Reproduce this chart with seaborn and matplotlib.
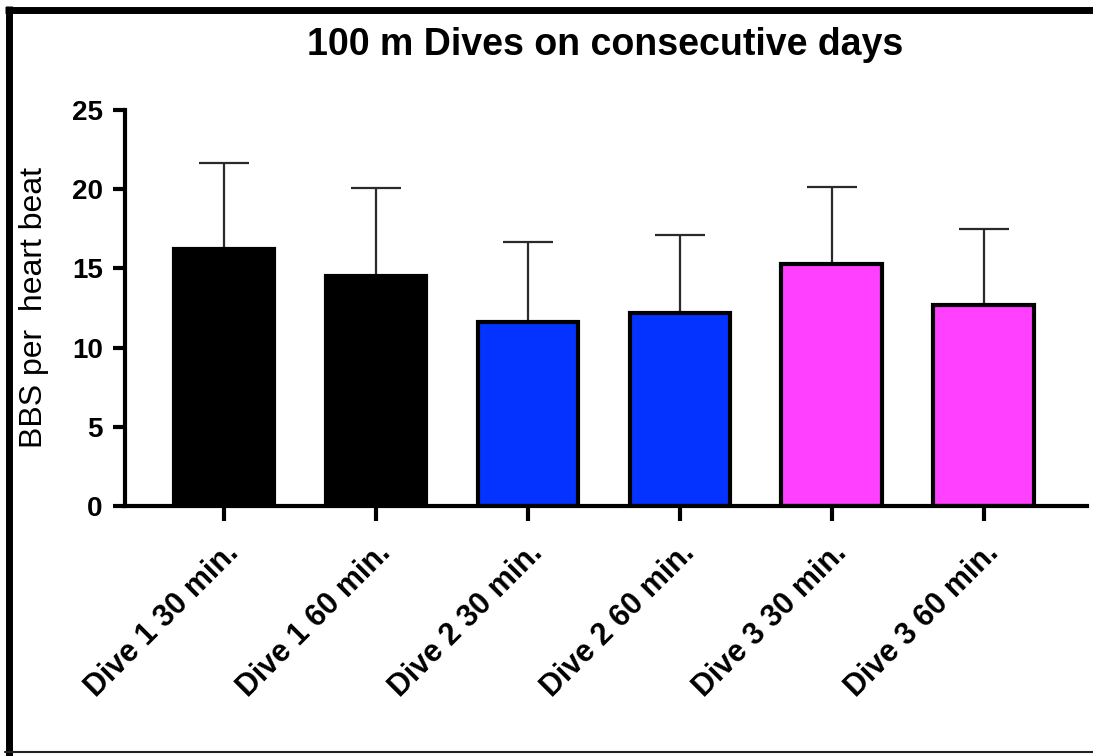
import numpy as np
import pandas as pd
import matplotlib
matplotlib.use('Agg')
import matplotlib.pyplot as plt
from matplotlib.lines import Line2D
import seaborn as sns

# values
labels = ['Dive 1 30 min.', 'Dive 1 60 min.', 'Dive 2 30 min.',
          'Dive 2 60 min.', 'Dive 3 30 min.', 'Dive 3 60 min.']
means = [16.2, 14.5, 11.6, 12.2, 15.3, 12.7]
sd = [5.45, 5.6, 5.05, 4.9, 4.85, 4.8]
colors = ['#000000', '#000000', '#0433FF', '#0433FF', '#FF40FF', '#FF40FF']
yticks = [0, 5, 10, 15, 20, 25]

sns.set_style('ticks')
plt.rcParams['font.family'] = ['Liberation Sans', 'DejaVu Sans']
plt.rcParams['text.color'] = 'black'
plt.rcParams['axes.labelcolor'] = 'black'
plt.rcParams['xtick.color'] = 'black'
plt.rcParams['ytick.color'] = 'black'
plt.rcParams['axes.edgecolor'] = 'black'

fig = plt.figure(figsize=(10.93, 7.56), dpi=100)
ax = fig.add_axes([0.1144, 0.3307, 0.880, 0.5238])

df = pd.DataFrame({'label': labels, 'mean': means})
sns.barplot(data=df, x='label', y='mean', hue='label', palette=colors,
            saturation=1, legend=False, edgecolor='black', linewidth=3,
            width=0.66, ax=ax, zorder=2)

# upper-only SD bars
ax.errorbar(np.arange(len(means)), means, yerr=[np.zeros(len(sd)), sd],
            fmt='none', ecolor='#2a2a2a', elinewidth=1.6, capsize=18,
            capthick=1.6, zorder=1)

ax.set_xlim(-0.65, 5.68)
ax.set_ylim(0, 25)
ax.set_yticks(yticks)
sns.despine(ax=ax)
for s in ['left', 'bottom']:
    ax.spines[s].set_linewidth(3)

ax.tick_params(axis='y', length=9, width=3, labelsize=20, pad=7)
ax.tick_params(axis='x', length=11, width=3, labelsize=22, pad=12)
for t in ax.get_yticklabels():
    t.set_fontweight('bold')
ax.set_xticks(range(len(labels)))
ax.set_xticklabels(labels, rotation=45, ha='right', rotation_mode='anchor',
                   fontweight='bold')
ax.set_xlabel('')
ax.set_ylabel('BBS per  heart beat', fontsize=23)
ax.yaxis.set_label_coords(-0.079, 0.5)

fig.text(0.5535, 1 - 45 / 756, '100 m Dives on consecutive days',
         ha='center', va='center', fontsize=27, fontweight='bold')

# frame around the figure (left, top, bottom)
fig.add_artist(Line2D([8.5 / 1093, 8.5 / 1093], [0, 1 - 6 / 756],
                      transform=fig.transFigure, color='black', lw=5,
                      solid_capstyle='butt'))
fig.add_artist(Line2D([5 / 1093, 1], [1 - 9.5 / 756, 1 - 9.5 / 756],
                      transform=fig.transFigure, color='black', lw=5,
                      solid_capstyle='butt'))
fig.add_artist(Line2D([5 / 1093, 1], [4 / 756, 4 / 756],
                      transform=fig.transFigure, color='#222222', lw=1.5))

fig.savefig('out.png', dpi=100)
